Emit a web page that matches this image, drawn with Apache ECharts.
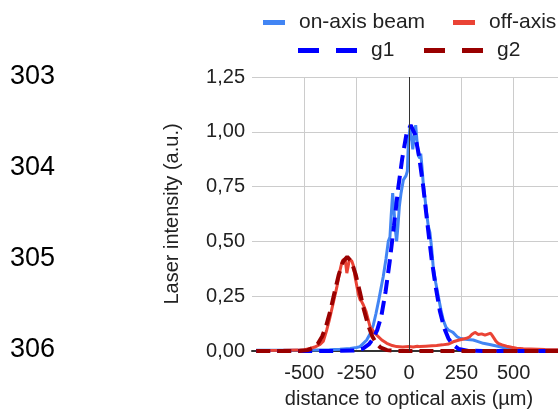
<!DOCTYPE html>
<html>
<head>
<meta charset="utf-8">
<script src="https://cdn.jsdelivr.net/npm/echarts@6/dist/echarts.min.js"></script>
<style>
html,body{margin:0;padding:0;background:#fff;}
#chart{width:558px;height:412px;}
</style>
</head>
<body>
<div id="chart"></div>
<script>
// ---- data ----
const rowNumbers = ['303', '304', '305', '306'];
const xTickLabels = ['-500', '-250', '0', '250', '500'];
const yTickLabels = ['0,00', '0,25', '0,50', '0,75', '1,00', '1,25'];
const seriesNames = ['on-axis beam', 'off-axis', 'g1', 'g2'];

const onAxisX = [-730, -600, -500, -440, -380, -330, -281, -250, -234, -218, -202, -185, -170, -158, -146, -135, -123, -110, -99, -91, -85, -78, -72, -65, -59, -52, -46, -38, -27, -14, -8, -3, 5, 12, 18, 25, 32, 38, 45, 52, 56, 62, 68, 76, 84, 92, 100, 108, 116, 128, 140, 152, 164, 176, 188, 200, 210, 219, 230, 243, 260, 280, 307, 330, 355, 385, 418, 445, 466, 500, 550, 600, 730];
const onAxisY = [0.003, 0.003, 0.004, 0.005, 0.006, 0.008, 0.012, 0.016, 0.02, 0.035, 0.05, 0.08, 0.12, 0.17, 0.225, 0.28, 0.34, 0.42, 0.5, 0.52, 0.62, 0.72, 0.65, 0.55, 0.5, 0.58, 0.66, 0.72, 0.78, 0.8, 0.82, 0.95, 1.02, 0.97, 0.92, 0.98, 1.03, 0.96, 0.89, 0.88, 0.9, 0.84, 0.765, 0.7, 0.63, 0.57, 0.54, 0.47, 0.38, 0.31, 0.25, 0.19, 0.14, 0.11, 0.096, 0.09, 0.085, 0.077, 0.065, 0.058, 0.055, 0.052, 0.05, 0.043, 0.035, 0.03, 0.023, 0.017, 0.012, 0.008, 0.006, 0.005, 0.004];

const offAxisX = [-730, -600, -530, -500, -472, -450, -425, -409, -393, -381, -369, -357, -345, -337, -329, -322, -316, -305, -297, -290, -285, -278, -273, -266, -258, -250, -242, -234, -226, -218, -205, -194, -186, -170, -162, -146, -130, -106, -80, -59, -30, 0, 20, 40, 52, 80, 110, 132, 160, 190, 211, 240, 260, 275, 290, 300, 307, 315, 323, 331, 339, 347, 355, 363, 371, 380, 390, 398, 405, 415, 426, 445, 466, 490, 514, 546, 580, 650, 730];
const offAxisY = [0.002, 0.003, 0.004, 0.006, 0.012, 0.018, 0.03, 0.045, 0.096, 0.14, 0.19, 0.24, 0.29, 0.33, 0.37, 0.4, 0.415, 0.42, 0.355, 0.39, 0.42, 0.42, 0.41, 0.39, 0.34, 0.3, 0.26, 0.235, 0.225, 0.21, 0.18, 0.14, 0.11, 0.09, 0.08, 0.065, 0.05, 0.035, 0.025, 0.02, 0.018, 0.02, 0.018, 0.022, 0.02, 0.022, 0.024, 0.025, 0.028, 0.032, 0.042, 0.05, 0.055, 0.058, 0.065, 0.075, 0.075, 0.085, 0.083, 0.075, 0.07, 0.078, 0.08, 0.072, 0.07, 0.078, 0.081, 0.07, 0.06, 0.045, 0.035, 0.028, 0.022, 0.017, 0.013, 0.01, 0.009, 0.007, 0.006];

const g1X = [-730, -400, -262, -222, -192, -172, -152, -132, -112, -92, -72, -52, -32, -12, 8, 28, 48, 68, 88, 108, 128, 148, 168, 188, 208, 238, 278, 350, 730];
const g1Y = [0, 0, 0.002, 0.01, 0.03, 0.055, 0.095, 0.16, 0.27, 0.41, 0.57, 0.74, 0.88, 0.99, 1.03, 0.99, 0.89, 0.75, 0.58, 0.42, 0.29, 0.18, 0.105, 0.058, 0.03, 0.009, 0.0015, 0, 0];

const g2X = [-730, -525, -485, -455, -435, -415, -395, -375, -355, -335, -315, -295, -275, -255, -235, -215, -195, -175, -155, -135, -105, -65, 0, 730];
const g2Y = [0, 0.0004, 0.004, 0.015, 0.034, 0.066, 0.117, 0.187, 0.27, 0.35, 0.408, 0.43, 0.408, 0.35, 0.27, 0.187, 0.117, 0.066, 0.034, 0.015, 0.004, 0.0004, 0, 0];

// ---- build chart ----
const FONT = "'Liberation Sans', Arial, sans-serif";
const colors = ['#4285F4', '#EA4335', '#0000FF', '#990000'];
function pairs(xs, ys) { return xs.map((x, i) => [x, ys[i]]); }

const chart = echarts.init(document.getElementById('chart'), null, {renderer: 'canvas'});

function legendItem(name, left, top, icon, w, color) {
  return {
    data: [name], left: left, top: top, padding: 0, orient: 'horizontal',
    icon: icon, itemWidth: w, itemHeight: 5, selectedMode: false,
    itemStyle: {color: color, borderWidth: 0},
    textStyle: {fontFamily: FONT, fontSize: 21, color: '#222', padding: [0, 0, 0, 9]}
  };
}
const dashIcon = 'path://M0,0H21V5H0Z M38,0H59V5H38Z';

const option = {
  animation: false,
  backgroundColor: '#fff',
  color: colors,
  textStyle: {fontFamily: FONT},
  legend: [
    legendItem(seriesNames[0], 263, 12, 'rect', 22, colors[0]),
    legendItem(seriesNames[1], 453, 12, 'rect', 22, colors[1]),
    legendItem(seriesNames[2], 298, 40, dashIcon, 59, colors[2]),
    legendItem(seriesNames[3], 424, 40, dashIcon, 59, colors[3])
  ],
  grid: {left: 252, top: 77, width: 314, height: 274, outerBoundsMode: 'none', containLabel: false},
  xAxis: {
    type: 'value', min: -750, max: 750, interval: 250,
    name: 'distance to optical axis (µm)', nameLocation: 'middle', nameGap: 38,
    nameTextStyle: {fontFamily: FONT, fontSize: 20, color: '#222', verticalAlign: 'top'},
    axisLine: {show: true, onZero: false, lineStyle: {color: '#333', width: 2}},
    axisTick: {show: false},
    axisLabel: {
      fontFamily: FONT, fontSize: 20, color: '#222', margin: 12,
      showMinLabel: false, showMaxLabel: false,
      formatter: v => { const s = String(v); return xTickLabels.indexOf(s) >= 0 ? s : ''; }
    },
    splitLine: {show: true, showMinLine: false, showMaxLine: false, lineStyle: {color: '#cccccc', width: 1}}
  },
  yAxis: {
    type: 'value', min: 0, max: 1.25, interval: 0.25,
    name: 'Laser intensity (a.u.)', nameLocation: 'middle', nameGap: 70, nameRotate: 90,
    nameTextStyle: {fontFamily: FONT, fontSize: 20, color: '#222'},
    axisLine: {show: false},
    axisTick: {show: false},
    axisLabel: {
      fontFamily: FONT, fontSize: 20, color: '#222', margin: 7,
      formatter: v => yTickLabels[Math.round(v / 0.25)] || ''
    },
    splitLine: {show: true, lineStyle: {color: '#cccccc', width: 1}}
  },
  series: [
    {
      name: seriesNames[0], type: 'line', data: pairs(onAxisX, onAxisY), symbol: 'none',
      lineStyle: {width: 3, color: colors[0]}, itemStyle: {color: colors[0]},
      markLine: {
        silent: true, symbol: ['none', 'none'], label: {show: false},
        lineStyle: {color: '#333', width: 1, type: 'solid'},
        data: [{xAxis: 0}]
      }
    },
    {
      name: seriesNames[1], type: 'line', data: pairs(offAxisX, offAxisY), symbol: 'none',
      lineStyle: {width: 3, color: colors[1]}, itemStyle: {color: colors[1]}
    },
    {
      name: seriesNames[2], type: 'line', data: pairs(g1X, g1Y), symbol: 'none',
      lineStyle: {width: 4, color: colors[2], type: [14, 7]}, itemStyle: {color: colors[2]}
    },
    {
      name: seriesNames[3], type: 'line', data: pairs(g2X, g2Y), symbol: 'none',
      lineStyle: {width: 4, color: colors[3], type: [14, 7]}, itemStyle: {color: colors[3]}
    }
  ],
  graphic: rowNumbers.map((t, i) => ({
    type: 'text', left: 10, top: 63 + i * 91, silent: true,
    style: {text: t, fontFamily: FONT, fontSize: 27, fill: '#000'}
  }))
};
chart.setOption(option);
</script>
</body>
</html>
